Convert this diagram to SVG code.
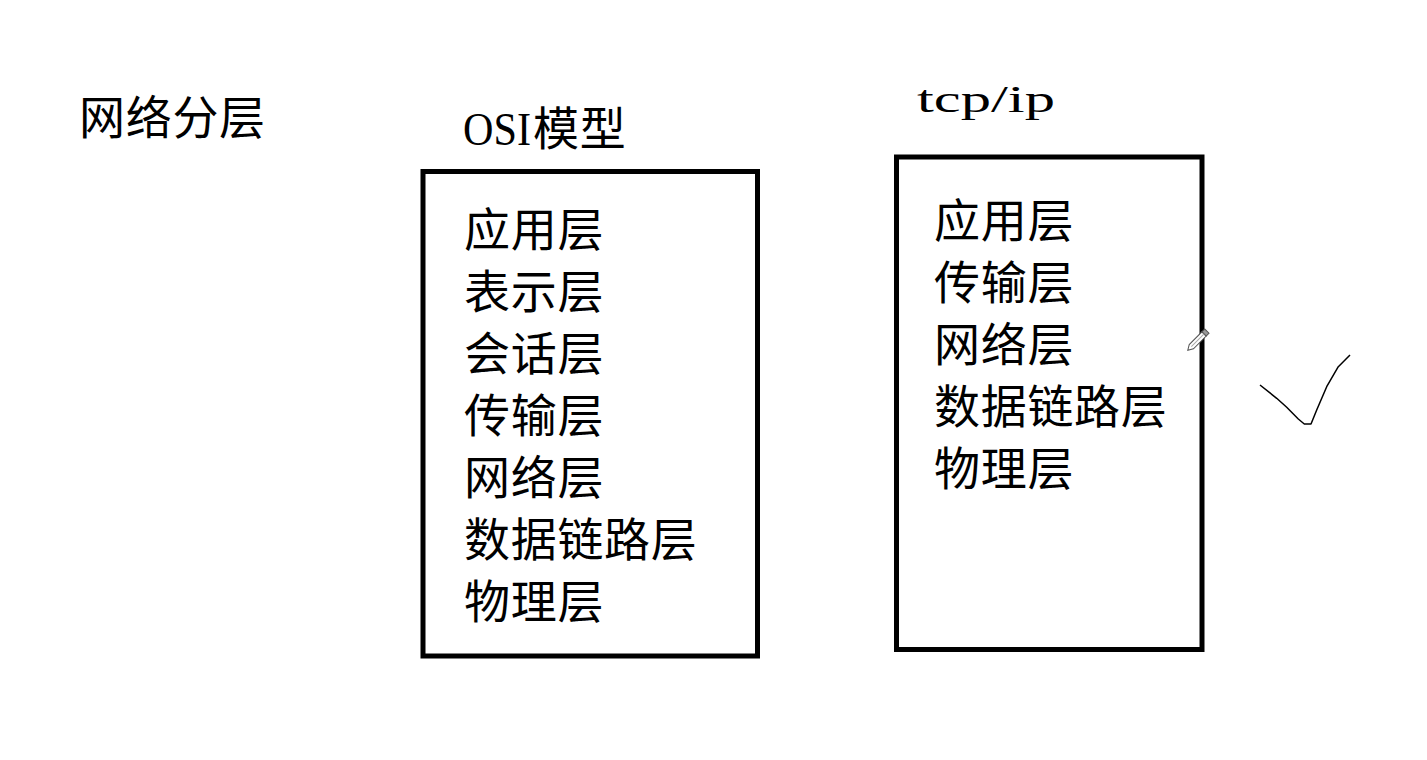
<svg xmlns="http://www.w3.org/2000/svg" width="1427" height="760" viewBox="0 0 1427 760">
<style>
.cjk{font-family:"Noto Sans CJK SC","Noto Sans CJK TC",sans-serif;font-size:46px;letter-spacing:0.7px;fill:#000;}
.lat{font-family:"Liberation Serif",serif;fill:#000;}
.box{fill:none;stroke:#000;stroke-width:5;}
</style>
<rect x="0" y="0" width="1427" height="760" fill="#fff"/>
<g id="title"><text class="cjk" x="79" y="134">网络分层</text></g>
<g id="osi">
<text class="lat" x="463" y="145" font-size="46" textLength="68" lengthAdjust="spacingAndGlyphs">OSI</text>
<text class="cjk" x="533" y="145">模型</text>
<rect class="box" x="423" y="171.5" width="334.5" height="484.5"/>
<text class="cjk" x="464" y="246">应用层</text>
<text class="cjk" x="464" y="308">表示层</text>
<text class="cjk" x="464" y="370">会话层</text>
<text class="cjk" x="464" y="432">传输层</text>
<text class="cjk" x="464" y="494">网络层</text>
<text class="cjk" x="464" y="556">数据链路层</text>
<text class="cjk" x="464" y="618">物理层</text>
</g>
<g id="tcpip">
<text class="lat" x="917" y="112" font-size="38" textLength="138" lengthAdjust="spacingAndGlyphs">tcp/ip</text>
<rect class="box" x="896.5" y="157" width="305.5" height="492.5"/>
<text class="cjk" x="934" y="237">应用层</text>
<text class="cjk" x="934" y="299">传输层</text>
<text class="cjk" x="934" y="361">网络层</text>
<text class="cjk" x="934" y="422.5">数据链路层</text>
<text class="cjk" x="934" y="484.5">物理层</text>
</g>
<g id="check">
<polyline points="1260,385 1276.7,398.3 1286.7,407.3 1298.3,419 1304.3,424 1311,424 1316.7,410 1326.7,386.7 1338.3,366.7 1343.3,361.7 1350,355" fill="none" stroke="#000" stroke-width="1.5" stroke-linejoin="round"/>
</g>
<g id="pencil" transform="translate(1197,341) rotate(-45)">
<polygon points="-13,0 -8,-3 10,-3 10,3 -8,3" fill="#fff" stroke="#555" stroke-width="1"/>
<rect x="10" y="-3" width="4" height="6" fill="#999" stroke="#555" stroke-width="1"/>
<line x1="-8" y1="0" x2="10" y2="0" stroke="#aaa" stroke-width="1"/>
</g>
</svg>
